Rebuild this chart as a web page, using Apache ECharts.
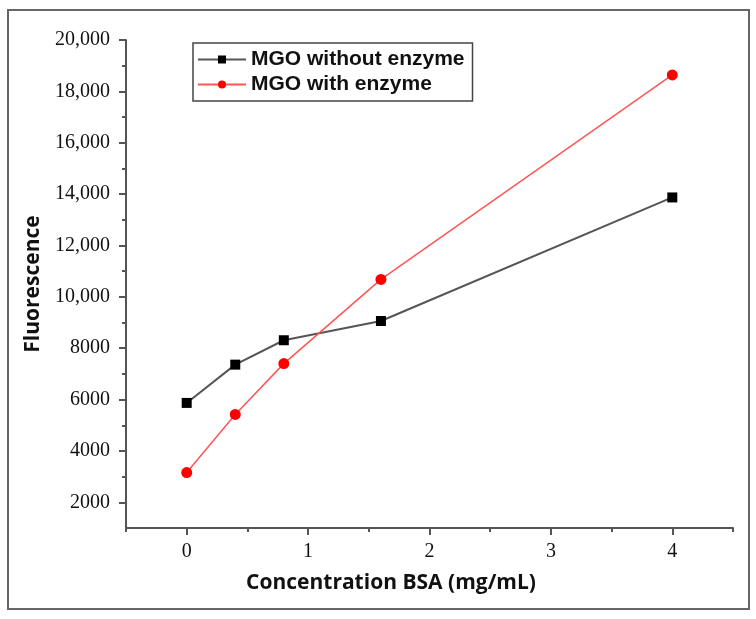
<!DOCTYPE html>
<html>
<head>
<meta charset="utf-8">
<script src="https://cdn.jsdelivr.net/npm/echarts@6/dist/echarts.min.js"></script>
<style>html,body{margin:0;padding:0;background:#fff}#c{width:756px;height:619px}</style>
</head>
<body>
<div id="c"></div>
<script>
const concentrations = [0, 0.4, 0.8, 1.6, 4];
const withoutEnzyme = [5870, 7360, 8310, 9060, 13870];
const withEnzyme = [3160, 5420, 7400, 10680, 18640];
const xTickLabels = [0, 1, 2, 3, 4];
const xMinorTicks = [-0.5, 0.5, 1.5, 2.5, 3.5, 4.5];
const yTickLabels = [2000, 4000, 6000, 8000, 10000, 12000, 14000, 16000, 18000, 20000];
const yMinorTicks = [3000, 5000, 7000, 9000, 11000, 13000, 15000, 17000, 19000];
const seriesNames = ['MGO without enzyme', 'MGO with enzyme'];
const xTitle = 'Concentration BSA (mg/mL)';
const yTitle = 'Fluorescence';

const axisColor = '#555';
const chart = echarts.init(document.getElementById('c'));
const fmt = v => v >= 10000 ? v.toLocaleString('en-US') : String(v);
const grid = {left: 126, top: 40, right: 23, bottom: 91};

chart.setOption({
  animation: false,
  backgroundColor: '#fff',
  graphic: [{
    type: 'rect', shape: {x: 8, y: 10, width: 741, height: 599},
    style: {fill: 'none', stroke: '#666', lineWidth: 2}, z: 0
  }, {
    type: 'text', x: 391, y: 583,
    style: {text: xTitle, fontFamily: 'Open Sans', fontWeight: 'bold', fontSize: 21, fill: '#111',
            align: 'center', verticalAlign: 'middle'}
  }],
  legend: {
    left: 193, top: 43, orient: 'vertical',
    itemWidth: 48, itemHeight: 10, itemGap: 4,
    padding: [6, 8, 6, 4],
    borderColor: '#444', borderWidth: 1.5, backgroundColor: '#fff',
    textStyle: {fontFamily: 'Liberation Sans', fontWeight: 'bold', fontSize: 21, color: '#111'},
    data: seriesNames
  },
  grid: grid,
  xAxis: [{
    type: 'value', min: -0.5, max: 4.5,
    axisLine: {show: true, onZero: false, lineStyle: {color: axisColor, width: 2}},
    axisTick: {show: true, length: 7, customValues: xTickLabels, lineStyle: {color: axisColor, width: 2}},
    axisLabel: {customValues: xTickLabels, margin: 14, fontFamily: 'Liberation Serif', fontSize: 20, color: '#111'},
    splitLine: {show: false}
  }, {
    type: 'value', min: -0.5, max: 4.5, position: 'bottom',
    axisLine: {show: false, onZero: false},
    axisTick: {show: true, length: 4, customValues: xMinorTicks, lineStyle: {color: axisColor, width: 2}},
    axisLabel: {show: false}, splitLine: {show: false}
  }],
  yAxis: [{
    type: 'value', min: 1000, max: 20000,
    name: yTitle, nameLocation: 'middle', nameGap: 82,
    nameTextStyle: {fontFamily: 'Open Sans', fontWeight: 'bold', fontSize: 21, color: '#111'},
    axisLine: {show: true, onZero: false, lineStyle: {color: axisColor, width: 2}},
    axisTick: {show: true, length: 7, customValues: yTickLabels, lineStyle: {color: axisColor, width: 2}},
    axisLabel: {customValues: yTickLabels, formatter: fmt, margin: 16, fontFamily: 'Liberation Serif', fontSize: 20, color: '#111'},
    splitLine: {show: false}
  }, {
    type: 'value', min: 1000, max: 20000, position: 'left',
    axisLine: {show: false, onZero: false},
    axisTick: {show: true, length: 4, customValues: yMinorTicks, lineStyle: {color: axisColor, width: 2}},
    axisLabel: {show: false}, splitLine: {show: false}
  }],
  series: [{
    name: seriesNames[0], type: 'line',
    data: concentrations.map((x, i) => [x, withoutEnzyme[i]]),
    symbol: 'rect', symbolSize: 10,
    itemStyle: {color: '#000'},
    lineStyle: {color: '#555', width: 2}
  }, {
    name: seriesNames[1], type: 'line',
    data: concentrations.map((x, i) => [x, withEnzyme[i]]),
    symbol: 'circle', symbolSize: 11,
    itemStyle: {color: '#ff0000'},
    lineStyle: {color: '#ff5555', width: 1.5}
  }]
});
</script>
</body>
</html>
